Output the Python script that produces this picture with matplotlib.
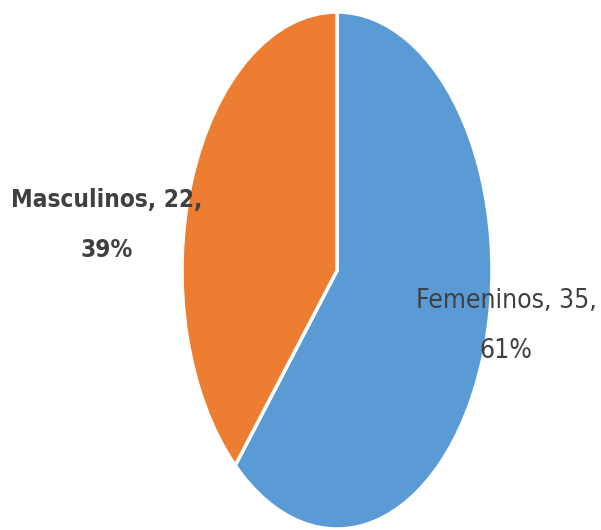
import matplotlib.pyplot as plt

labels = ["Femeninos", "Masculinos"]
values = [35, 22]
colors = ["#5B9BD5", "#ED7D31"]

plt.rcParams['font.family'] = ['DejaVu Sans']

fig = plt.figure(figsize=(6.01, 5.30), dpi=100)
# pie is drawn as an ellipse: taller than wide
ax = fig.add_axes([182 / 601, 1 - 529 / 530, 310 / 601, 517 / 530])
ax.pie(values, colors=colors, startangle=90, counterclock=False,
       wedgeprops=dict(edgecolor="white", linewidth=2.5))
ax.set_aspect('auto')
ax.set_xlim(-1, 1)
ax.set_ylim(-1, 1)
ax.axis('off')

total = sum(values)
pct = [round(v * 100 / total) for v in values]

fig.text(107 / 601, 1 - 225 / 530, f"{labels[1]}, {values[1]},\n{pct[1]}%",
         ha='center', va='center', fontsize=17.5, fontweight='bold',
         fontstretch='condensed', color='#404040', linespacing=2.4)
fig.text(506 / 601, 1 - 326 / 530, f"{labels[0]}, {values[0]},\n{pct[0]}%",
         ha='center', va='center', fontsize=19, fontstretch='condensed',
         color='#404040', linespacing=2.2)

fig.savefig("out.png", dpi=100)
